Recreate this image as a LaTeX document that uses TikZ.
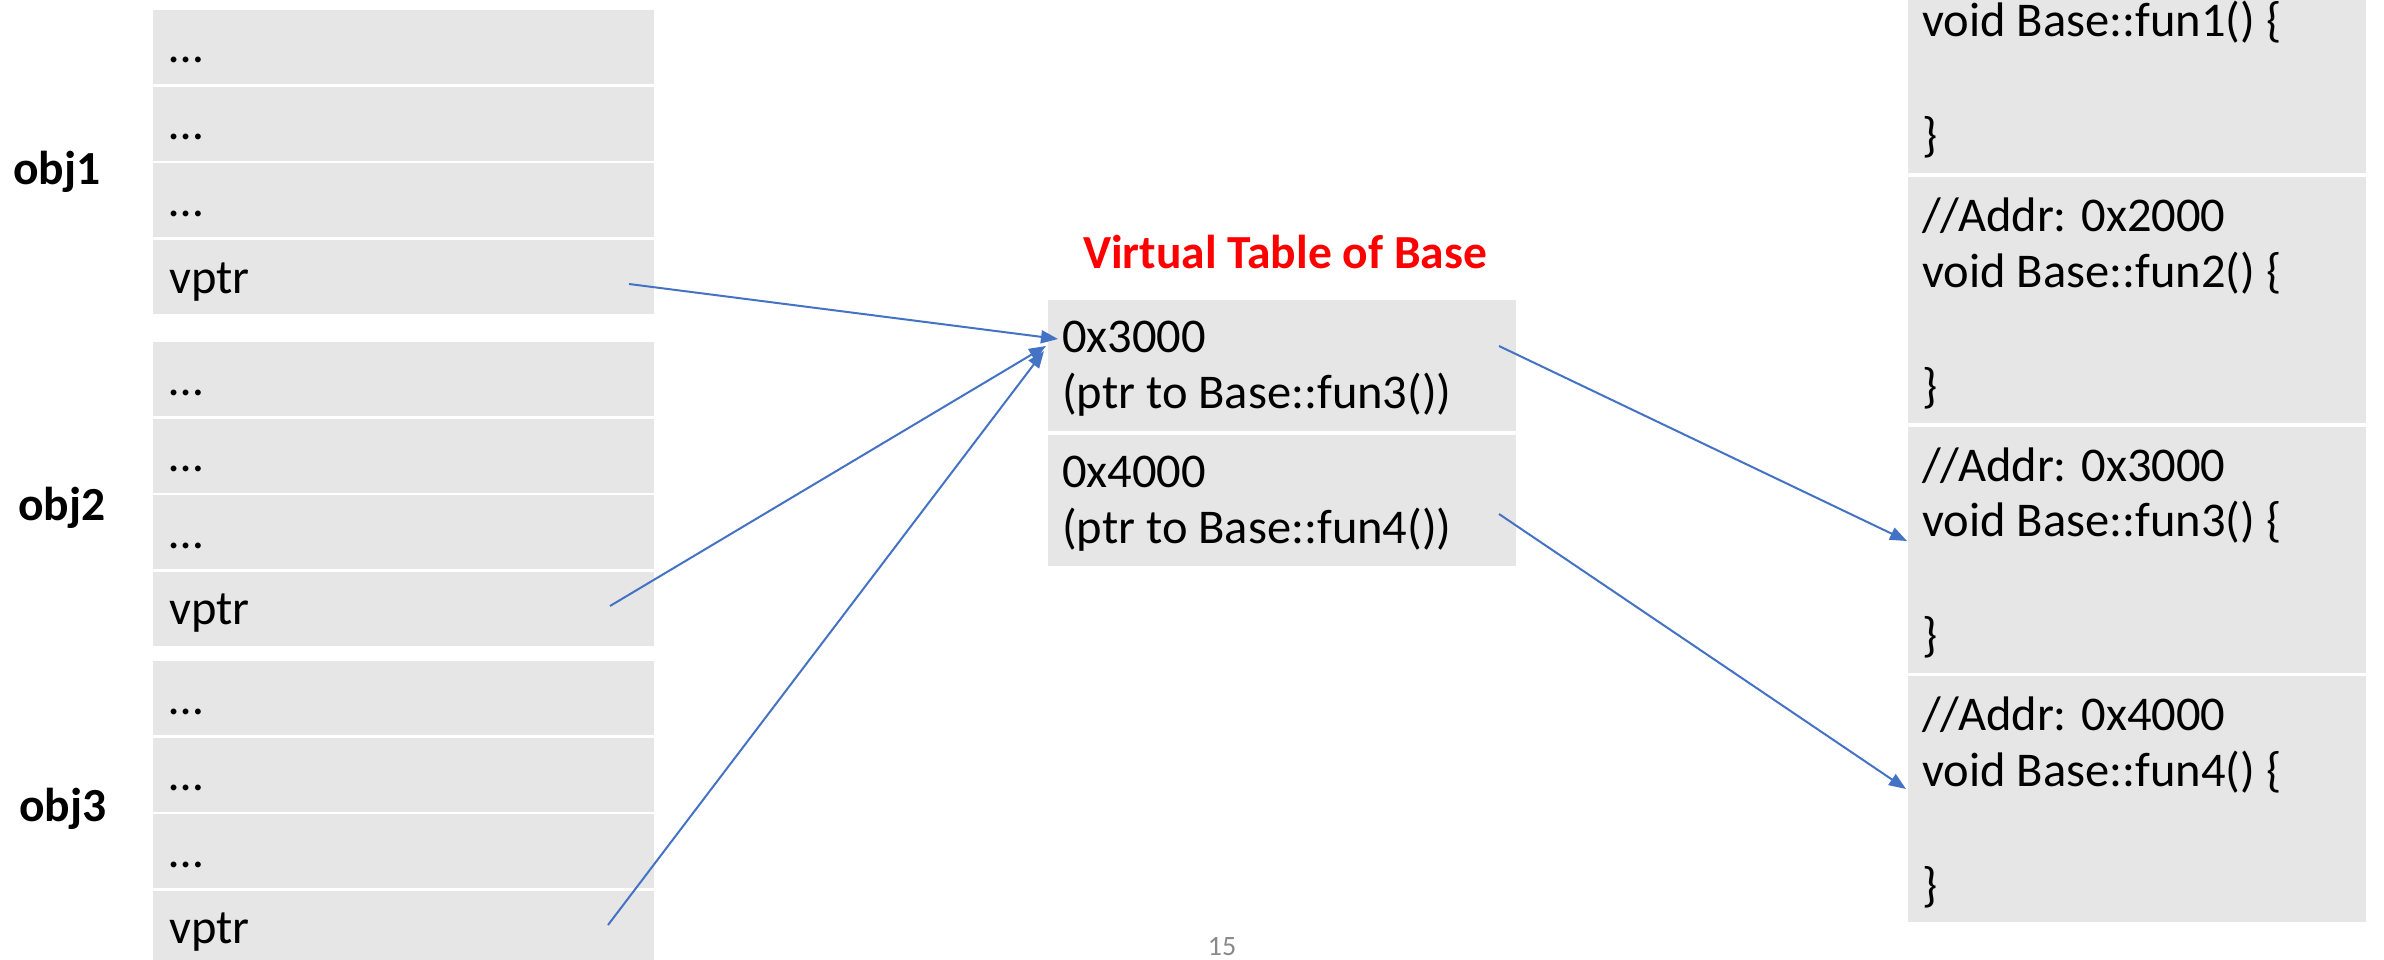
\documentclass[tikz,border=0pt]{standalone}
\usepackage{fontspec}
\setmainfont{Carlito}
\usetikzlibrary{arrows.meta}
\definecolor{cellgray}{HTML}{E7E6E6}
\definecolor{arrowblue}{HTML}{4472C4}
\definecolor{pagegray}{HTML}{898989}
\definecolor{titlered}{HTML}{FF0000}
\tikzset{
  cell/.style={fill=cellgray, draw=none, anchor=north west, inner sep=0pt, outer sep=0pt},
  objcell/.style={cell, minimum width=501pt, minimum height=74pt},
  vtcell/.style={cell, minimum width=468pt, minimum height=131pt},
  fncell/.style={cell, minimum width=458pt, minimum height=246pt},
  txt/.style={anchor=base west, inner sep=0pt, font=\fontsize{48.5}{55}\selectfont},
  lbl/.style={anchor=base west, inner sep=0pt, font=\fontsize{47.5}{55}\selectfont\bfseries},
  arr/.style={draw=arrowblue, line width=2pt, -{Triangle[length=17pt,width=13pt]}},
}
\begin{document}
\begin{tikzpicture}[x=1pt,y=-1pt]
\useasboundingbox (0,0) rectangle (2384,960);
\clip (0,0) rectangle (2384,960);

% ---- obj1 ----
\node[objcell] (o1a) at (153,10) {};
\node[objcell] (o1b) at (153,87) {};
\node[objcell] (o1c) at (153,163) {};
\node[objcell] (o1d) at (153,240) {};
\node[txt] (t1a) at (169,63) {…};
\node[txt] (t1b) at (169,140) {…};
\node[txt] (t1c) at (169,216) {…};
\node[txt] (t1d) at (169,293) {vptr};
\node[lbl] (l1) at (13,185) {obj1};

% ---- obj2 ----
\node[objcell] (o2a) at (153,342) {};
\node[objcell] (o2b) at (153,418.5) {};
\node[objcell] (o2c) at (153,495) {};
\node[objcell] (o2d) at (153,571.5) {};
\node[txt] (t2a) at (169,395) {…};
\node[txt] (t2b) at (169,471.5) {…};
\node[txt] (t2c) at (169,548) {…};
\node[txt] (t2d) at (169,624.5) {vptr};
\node[lbl] (l2) at (18,520) {obj2};

% ---- obj3 ----
\node[objcell] (o3a) at (153,661) {};
\node[objcell] (o3b) at (153,737.5) {};
\node[objcell] (o3c) at (153,814) {};
\node[objcell] (o3d) at (153,890.5) {};
\node[txt] (t3a) at (169,714) {…};
\node[txt] (t3b) at (169,790.5) {…};
\node[txt] (t3c) at (169,867) {…};
\node[txt] (t3d) at (169,943.5) {vptr};
\node[lbl] (l3) at (19,821) {obj3};

% ---- virtual table ----
\node[anchor=base, inner sep=0pt, font=\fontsize{47.5}{55}\selectfont\bfseries, text=titlered] (title) at (1285,268) {Virtual Table of Base};
\node[vtcell] (vt1) at (1048,300) {};
\node[vtcell] (vt2) at (1048,434.5) {};
\node[txt] (v1a) at (1062,352) {0x3000};
\node[txt] (v1b) at (1062,408) {(ptr to Base::fun3())};
\node[txt] (v2a) at (1062,487) {0x4000};
\node[txt] (v2b) at (1062,543) {(ptr to Base::fun4())};

% ---- functions ----
\node[fncell] (f1) at (1908,-73) {};
\node[fncell] (f2) at (1908,177) {};
\node[fncell] (f3) at (1908,426.5) {};
\node[fncell] (f4) at (1908,676) {};
\node[txt] (f1b) at (1922,37) {void Base::fun1() \{};
\node[txt] (f1c) at (1922,152) {\}};
\node[txt] (f2a) at (1922,231) {//Addr: 0x2000};
\node[txt] (f2b) at (1922,287) {void Base::fun2() \{};
\node[txt] (f2c) at (1922,402) {\}};
\node[txt] (f3a) at (1922,481) {//Addr: 0x3000};
\node[txt] (f3b) at (1922,536) {void Base::fun3() \{};
\node[txt] (f3c) at (1922,651) {\}};
\node[txt] (f4a) at (1922,730) {//Addr: 0x4000};
\node[txt] (f4b) at (1922,786) {void Base::fun4() \{};
\node[txt] (f4c) at (1922,901) {\}};

% ---- page number ----
\node[anchor=base, inner sep=0pt, font=\fontsize{28}{32}\selectfont, text=pagegray] (pg) at (1222,955) {15};

% ---- connectors ----
\coordinate (s1) at (629,284);
\coordinate (s2) at (610,606);
\coordinate (s3) at (608,925);
\coordinate (e1) at (1058,339);
\coordinate (e2) at (1046,346);
\coordinate (e3) at (1044,351);
\coordinate (s4) at (1499,346);
\coordinate (e4) at (1907,541);
\coordinate (s5) at (1499,514);
\coordinate (e5) at (1906,789);
\draw[arr] (s1) -- (e1);
\draw[arr] (s2) -- (e2);
\draw[arr] (s3) -- (e3);
\draw[arr] (s4) -- (e4);
\draw[arr] (s5) -- (e5);
\end{tikzpicture}
\end{document}
